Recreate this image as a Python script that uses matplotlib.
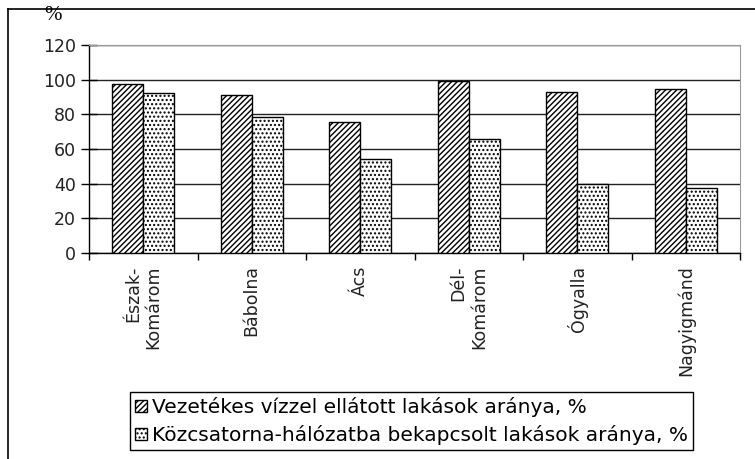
import matplotlib.pyplot as plt
import numpy as np
from matplotlib.lines import Line2D

# Települések és a két mutató (%)
telepulesek = ["Észak-\nKomárom", "Bábolna", "Ács", "Dél-\nKomárom", "Ógyalla", "Nagyigmánd"]
vezetekes_viz = [97.6, 91.0, 75.6, 99.4, 93.0, 94.5]
kozcsatorna = [92.2, 78.7, 54.0, 65.8, 39.8, 37.3]
y_ticks = [0, 20, 40, 60, 80, 100, 120]

plt.rcParams['font.family'] = 'DejaVu Sans'
plt.rcParams['hatch.linewidth'] = 1.0

fig = plt.figure(figsize=(7.55, 4.59), dpi=100)
ax = fig.add_axes([89 / 755, 1 - 253 / 459, (740 - 89) / 755, (253 - 45) / 459])

x = np.arange(len(telepulesek))
w = 0.286
ax.bar(x - w / 2, vezetekes_viz, w, color='white', edgecolor='black', linewidth=1,
       hatch='//////', label='Vezetékes vízzel ellátott lakások aránya, %', zorder=3)
ax.bar(x + w / 2, kozcsatorna, w, color='white', edgecolor='black', linewidth=1,
       hatch='....', label='Közcsatorna-hálózatba bekapcsolt lakások aránya, %', zorder=3)

ax.set_xlim(-0.5, len(telepulesek) - 0.5)
ax.set_ylim(0, 120)
ax.set_yticks(y_ticks)
ax.set_yticklabels([str(v) for v in y_ticks], fontsize=12.5, color='#222222')
ax.tick_params(axis='y', direction='inout', length=11, width=1, pad=4)

ax.set_xticks(x)
ax.set_xticklabels(telepulesek, rotation=90, fontsize=12.5, ha='center', va='top',
                   multialignment='right', color='#222222')
ax.tick_params(axis='x', which='major', length=0, pad=9)
ax.set_xticks(np.arange(-0.5, len(telepulesek)), minor=True)
ax.tick_params(axis='x', which='minor', direction='out', length=5, width=1)

ax.grid(axis='y', color='#222222', linewidth=1, zorder=1)
ax.set_axisbelow(True)
for s in ['top', 'right']:
    ax.spines[s].set_color('#999999')
for s in ['left', 'bottom']:
    ax.spines[s].set_color('black')
    ax.spines[s].set_linewidth(1)

# külső keret (bal és felső él)
fig.add_artist(Line2D([8 / 755, 8 / 755], [0, 1 - 9 / 459], color='black', lw=1.2,
                      transform=fig.transFigure))
fig.add_artist(Line2D([8 / 755, 1], [1 - 9 / 459, 1 - 9 / 459], color='black', lw=1.2,
                      transform=fig.transFigure))
fig.text(53 / 755, 1 - 15 / 459, "%", fontsize=15, family='Liberation Serif',
         ha='center', va='center')

leg = ax.legend(loc='upper left', bbox_to_anchor=(130 / 755, 1 - 392 / 459),
                bbox_transform=fig.transFigure, fontsize=14.5, frameon=True, fancybox=False,
                edgecolor='black', framealpha=1, handlelength=0.6, handleheight=0.6,
                handletextpad=0.25, borderpad=0.25, labelspacing=0.4, borderaxespad=0)
leg.get_frame().set_linewidth(1)

plt.savefig("out.png", dpi=100)
